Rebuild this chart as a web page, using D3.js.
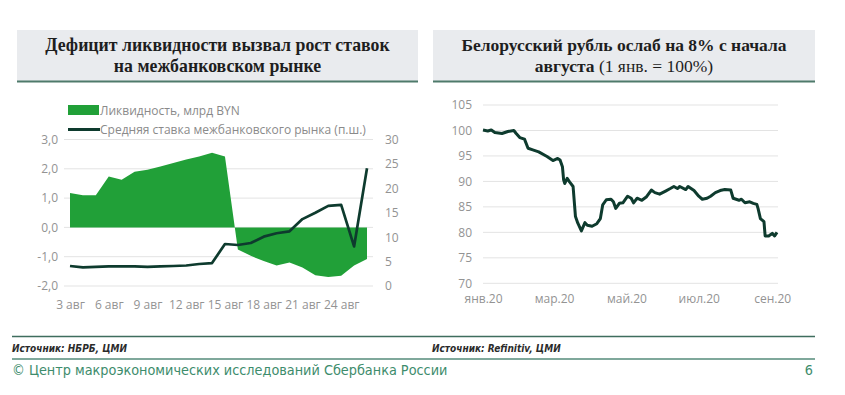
<!DOCTYPE html>
<html>
<head>
<meta charset="utf-8">
<script src="https://cdn.jsdelivr.net/npm/d3@7"></script>
<style>
  body { margin: 0; background: #fff; }
  svg { display: block; }
  .tick text { font-family: "Open Sans", sans-serif; font-size: 12px; fill: #939393; }
</style>
</head>
<body>
<svg id="chart" width="845" height="395"></svg>
<script>
// left chart: liquidity and interbank rate, 3-26 Aug
const days = ['3','4','5','6','7','8','9','10','11','12','13','14','15','16','17','18','19','20','21','22','23','24','25','26'];
const liquidity = [1.17, 1.1, 1.1, 1.74, 1.63, 1.9, 1.97, 2.08, 2.2, 2.32, 2.42, 2.55, 2.42,
  -0.75, -0.97, -1.15, -1.3, -1.2, -1.37, -1.63, -1.69, -1.65, -1.3, -1.08];
const rate = [4.1, 3.8, 3.9, 4.0, 4.0, 4.0, 3.9, 4.0, 4.1, 4.2, 4.5, 4.7, 8.6,
  8.4, 8.8, 10.1, 10.8, 11.2, 13.7, 15.0, 16.4, 16.6, 8.1, 24.1];
const leftTicks = [3, 2, 1, 0, -1, -2];
const rightTicks = [30, 25, 20, 15, 10, 5, 0];

// right chart: BYN index, 1 Jan = 100
const bynDates = ['2020-01-01','2020-01-05','2020-01-08','2020-01-11','2020-01-17','2020-01-22','2020-01-27','2020-01-29',
  '2020-02-01','2020-02-05','2020-02-08','2020-02-12','2020-02-17','2020-02-24','2020-02-29','2020-03-04','2020-03-06',
  '2020-03-08','2020-03-09','2020-03-10','2020-03-12','2020-03-14','2020-03-17','2020-03-19','2020-03-21','2020-03-24',
  '2020-03-27','2020-03-29','2020-04-02','2020-04-06','2020-04-09','2020-04-11','2020-04-14','2020-04-18','2020-04-20',
  '2020-04-22','2020-04-25','2020-04-28','2020-05-02','2020-05-05','2020-05-07','2020-05-10','2020-05-14','2020-05-18',
  '2020-05-22','2020-05-25','2020-05-29','2020-06-03','2020-06-07','2020-06-10','2020-06-13','2020-06-15','2020-06-20',
  '2020-06-22','2020-06-27','2020-07-01','2020-07-04','2020-07-08','2020-07-11','2020-07-15','2020-07-19','2020-07-23',
  '2020-07-28','2020-07-30','2020-08-04','2020-08-06','2020-08-09','2020-08-13','2020-08-16','2020-08-19','2020-08-20',
  '2020-08-22','2020-08-25','2020-08-26','2020-08-29','2020-09-01','2020-09-03','2020-09-05'];
const bynValues = [100.1, 99.9, 100.1, 99.6, 99.4, 99.8, 100.0, 99.4,
  98.6, 98.3, 96.5, 96.2, 95.8, 94.9, 94.1, 94.5, 94.2,
  92.9, 90.3, 89.6, 90.6, 89.9, 89.0, 83.1, 81.8, 80.3,
  81.9, 81.4, 81.2, 81.7, 82.7, 85.4, 86.4, 86.5, 86.0,
  84.7, 85.7, 85.8, 87.1, 86.7, 85.8, 86.7, 86.3, 87.0,
  88.3, 87.8, 87.5, 88.1, 88.6, 89.0, 88.6, 89.0, 88.4,
  89.0, 88.2, 87.1, 86.5, 86.7, 87.1, 87.8, 88.2, 88.4,
  88.3, 86.7, 86.3, 86.5, 85.8, 86.0, 85.7, 85.5, 84.7,
  82.7, 82.1, 79.3, 79.3, 79.8, 79.3, 80.0];
const bynTicks = [70, 75, 80, 85, 90, 95, 100, 105];
const monthDates = ['2020-01-01','2020-03-01','2020-05-01','2020-07-01','2020-09-01'];
const monthLabels = ['янв.20','мар.20','май.20','июл.20','сен.20'];

const svg = d3.select('#chart');
const green = '#21a038';
const dark = '#0e3b2e';
const grid = '#e3e3e3';

// header boxes
function header(x, w, size, lines) {
  svg.append('rect').attr('x', x).attr('y', 30).attr('width', w).attr('height', 51).attr('fill', '#e9ebee');
  svg.append('line').attr('x1', x).attr('x2', x + w).attr('y1', 81.5).attr('y2', 81.5)
    .attr('stroke', '#4e7a6b').attr('stroke-width', 2);
  lines.forEach((parts, i) => {
    const t = svg.append('text')
      .attr('x', x + w / 2).attr('y', 50.5 + i * 21.5)
      .attr('text-anchor', 'middle')
      .style('font-family', '"Liberation Serif", serif')
      .style('font-size', size + 'px')
      .attr('fill', '#1e1e1e');
    parts.forEach(p => t.append('tspan').style('font-weight', p[1]).text(p[0]));
  });
}
header(17, 401, 17.8, [[['Дефицит ликвидности вызвал рост ставок', 'bold']], [['на межбанковском рынке', 'bold']]]);
header(433, 382, 17.5, [[['Белорусский рубль ослаб на 8% с начала', 'bold']], [['августа', 'bold'], [' (1 янв. = 100%)', 'normal']]]);

// ---- left chart
const x = d3.scalePoint().domain(days).range([70, 367]);
const yL = d3.scaleLinear().domain([-2, 3]).range([286, 139.5]);
const yR = d3.scaleLinear().domain([0, 30]).range([286, 139.5]);

const left = svg.append('g');
left.selectAll('.gl').data(leftTicks).enter().append('line')
  .attr('x1', 64).attr('x2', 373)
  .attr('y1', d => yL(d)).attr('y2', d => yL(d))
  .attr('stroke', grid).attr('stroke-width', 1);

left.append('path')
  .datum(liquidity)
  .attr('fill', green)
  .attr('d', d3.area().x((d, i) => x(days[i])).y0(yL(0)).y1(d => yL(d)));

left.append('path')
  .datum(rate)
  .attr('fill', 'none').attr('stroke', dark).attr('stroke-width', 2.7).attr('stroke-linejoin', 'round')
  .attr('d', d3.line().x((d, i) => x(days[i])).y(d => yR(d)));

const axL = left.append('g').attr('transform', 'translate(58,0)')
  .call(d3.axisLeft(yL).tickValues(leftTicks).tickSize(0).tickPadding(0)
    .tickFormat(d => (d < 0 ? '-' : '') + Math.abs(d).toFixed(1).replace('.', ',')));
const axR = left.append('g').attr('transform', 'translate(385,0)')
  .call(d3.axisRight(yR).tickValues(rightTicks).tickSize(0).tickPadding(0));
const axB = left.append('g').attr('transform', 'translate(0,296)')
  .call(d3.axisBottom(x).tickValues(days.filter((d, i) => i % 3 === 0)).tickSize(0).tickPadding(4).tickFormat(d => d + ' авг'));
[axL, axR, axB].forEach(a => a.select('.domain').remove());

// legend
const lg = left.append('g').style('font-family', '"Open Sans", sans-serif').style('font-size', '12px');
lg.append('rect').attr('x', 68).attr('y', 105).attr('width', 31).attr('height', 10).attr('fill', green);
lg.append('text').attr('x', 100).attr('y', 114.5).attr('fill', '#8a8a8a').text('Ликвидность, млрд BYN');
lg.append('line').attr('x1', 68).attr('x2', 100).attr('y1', 129.5).attr('y2', 129.5).attr('stroke', dark).attr('stroke-width', 3);
lg.append('text').attr('x', 100).attr('y', 134).attr('fill', '#8a8a8a').text('Средняя ставка межбанковского рынка (п.ш.)');

// ---- right chart
const parse = d3.timeParse('%Y-%m-%d');
const xT = d3.scaleTime().domain([parse('2020-01-01'), parse('2020-09-05')]).range([483, 777]);
const yB = d3.scaleLinear().domain([70, 105]).range([283.3, 105]);

const right = svg.append('g');
right.selectAll('.gr').data(bynTicks).enter().append('line')
  .attr('x1', 483).attr('x2', 778)
  .attr('y1', d => yB(d)).attr('y2', d => yB(d))
  .attr('stroke', grid).attr('stroke-width', 1);

right.append('path')
  .datum(bynValues)
  .attr('fill', 'none').attr('stroke', dark).attr('stroke-width', 3).attr('stroke-linejoin', 'round')
  .attr('d', d3.line().x((d, i) => xT(parse(bynDates[i]))).y(d => yB(d)));

const axBL = right.append('g').attr('transform', 'translate(472,0)')
  .call(d3.axisLeft(yB).tickValues(bynTicks).tickSize(0).tickPadding(0));
const axBB = right.append('g').attr('transform', 'translate(0,290)')
  .call(d3.axisBottom(xT).tickValues(monthDates.map(parse)).tickSize(0).tickPadding(4)
    .tickFormat((d, i) => monthLabels[i]));
[axBL, axBB].forEach(a => a.select('.domain').remove());

// ---- footer
svg.append('line').attr('x1', 12).attr('x2', 815).attr('y1', 336.5).attr('y2', 336.5).attr('stroke', '#3f6d5e').attr('stroke-width', 1.5);
svg.append('line').attr('x1', 12).attr('x2', 815).attr('y1', 359).attr('y2', 359).attr('stroke', '#7fa89b').attr('stroke-width', 2);
const src = svg.append('g')
  .style('font-family', '"Liberation Sans Narrow", "DejaVu Sans Condensed", sans-serif')
  .style('font-size', '10px').style('font-style', 'italic').style('font-weight', 'bold').attr('fill', '#2b2b2b');
src.append('text').attr('x', 12).attr('y', 352).text('Источник: НБРБ, ЦМИ');
src.append('text').attr('x', 432).attr('y', 352).text('Источник: Refinitiv, ЦМИ');
const foot = svg.append('g')
  .style('font-family', '"Liberation Sans Narrow", "DejaVu Sans Condensed", sans-serif')
  .style('font-size', '14.3px').attr('fill', '#3d8c6c');
foot.append('text').attr('x', 12).attr('y', 375).text('© Центр макроэкономических исследований Сбербанка России');
foot.append('text').attr('x', 813).attr('y', 375).attr('text-anchor', 'end').text('6');
</script>
</body>
</html>
